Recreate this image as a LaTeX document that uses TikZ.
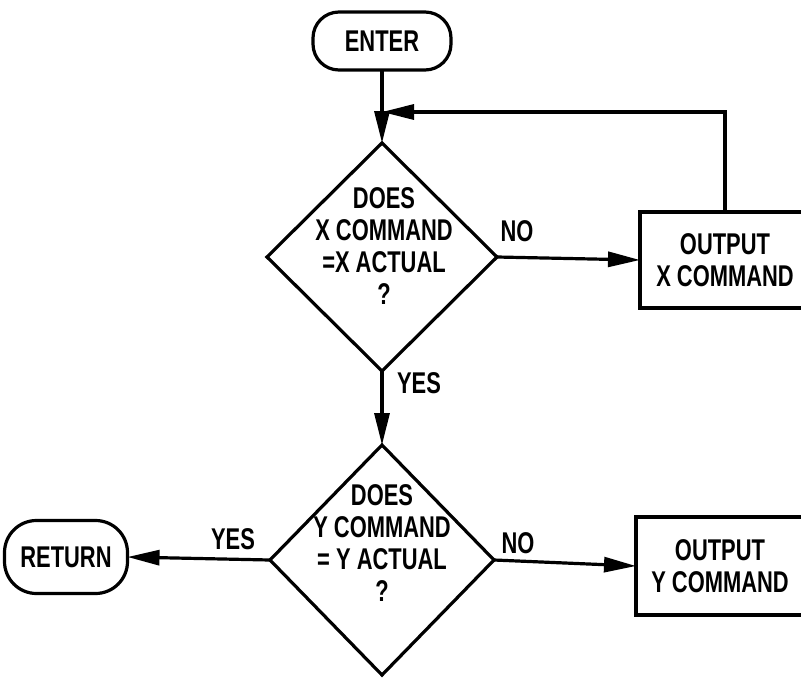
\documentclass[tikz,border=0pt]{standalone}
\usepackage{fontspec}
\newfontfamily\labfont[FakeStretch=0.73]{Liberation Sans}
\usetikzlibrary{shapes.geometric,arrows.meta}
\begin{document}
\begin{tikzpicture}[x=1pt,y=-1pt,
  every node/.style={inner sep=0pt,outer sep=0pt},
  txt/.style={font=\labfont\bfseries\fontsize{30}{32}\selectfont,align=center},
  lbl/.style={font=\labfont\bfseries\fontsize{30}{32}\selectfont},
  term/.style={draw,line width=3.2pt,rectangle,rounded corners=26pt,txt},
  dec/.style={draw,line width=3.2pt,diamond,minimum width=230pt,minimum height=228pt},
  procbox/.style={draw,line width=3.2pt,rectangle,minimum width=170pt,minimum height=96pt,txt},
  flow/.style={line width=3.2pt,-{Triangle[length=32pt,width=15pt]}}]
\useasboundingbox (0,0) rectangle (801,678);
\fill[white] (0,0) rectangle (801,678);
\clip (0,0) rectangle (801,678);
% nodes
\node[term,minimum width=138pt,minimum height=58pt] (enter) at (382,41) {ENTER};
\node[dec] (d1) at (382,257) {};
\node[txt] (d1t) at (384,246) {DOES\\X COMMAND\\=X ACTUAL\\?};
\node[procbox] (bx) at (725,260) {OUTPUT\\X COMMAND};
\node[dec,minimum width=224pt,minimum height=230pt] (d2) at (382,560) {};
\node[txt] (d2t) at (382,543) {DOES\\Y COMMAND\\= Y ACTUAL\\?};
\node[procbox,minimum width=168pt,minimum height=98pt] (by) at (720,566) {OUTPUT\\Y COMMAND};
\node[term,rounded corners=32pt,minimum width=123pt,minimum height=73pt] (ret) at (66,557) {RETURN};
\coordinate (j) at (382,112);
% labels
\node[lbl] (no1) at (517,231) {NO};
\node[lbl] (yes1) at (419,383) {YES};
\node[lbl] (yes2) at (233,539) {YES};
\node[lbl] (no2) at (518,543) {NO};
% connectors
\draw[flow] (enter.south) -- (d1.north);
\draw[flow] (bx.north) |- (j);
\draw[flow] (d1.east) -- (bx.west);
\draw[flow] (d1.south) -- (d2.north);
\draw[flow] (d2.west) -- (ret.east);
\draw[flow] (d2.east) -- (by.west);
\end{tikzpicture}
\end{document}
